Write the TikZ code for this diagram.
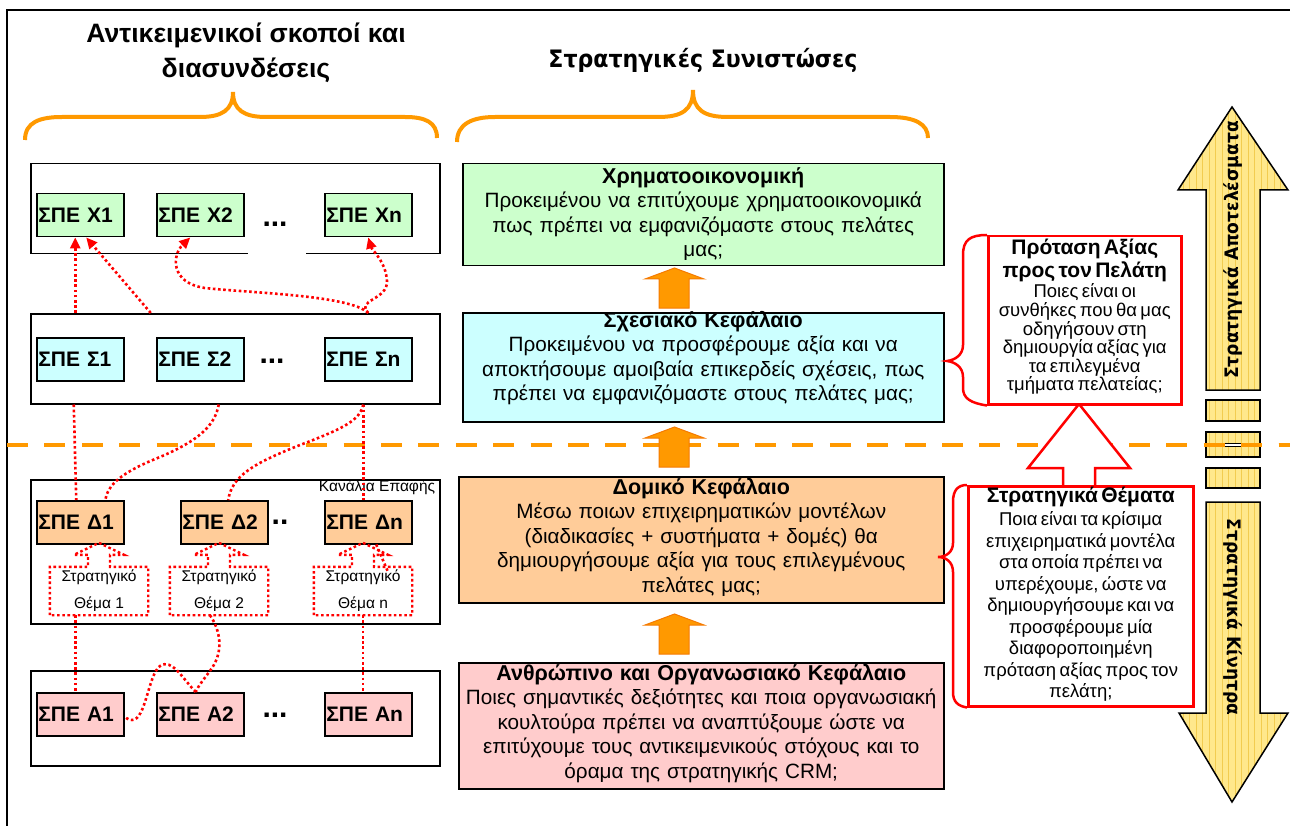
\documentclass[tikz,border=0pt]{standalone}
\usepackage{fontspec}
\setmainfont{Liberation Sans}
\newfontfamily\tahoma[FakeStretch=0.92]{DejaVu Sans}
\usetikzlibrary{arrows.meta,calc}

\definecolor{xgreen}{HTML}{CCFFCC}
\definecolor{scyan}{HTML}{CCFFFF}
\definecolor{dorange}{HTML}{FFCC99}
\definecolor{apink}{HTML}{FFCCCC}
\definecolor{accent}{HTML}{FF9900}
\definecolor{accentdark}{HTML}{F57A00}
\definecolor{arrowyellow}{HTML}{FFE88C}
\definecolor{gridyellow}{HTML}{F2CC50}

\newcommand\fs[2]{\fontsize{#1}{#2}\selectfont}

% orange block arrow between two strategy components, #1 = y of its tip
\newcommand\upblock[1]{%
  \filldraw[fill=accent, draw=accentdark, line width=1pt]
    (659,#1+40) -- (659,#1+11) -- (645,#1+11) -- (674.5,#1) -- (704,#1+11)
    -- (689,#1+11) -- (689,#1+40) -- cycle;}

% yellow gridded piece of the side arrow
\newcommand\gridpiece[1]{%
  \begin{scope}
    \clip #1;
    \fill[arrowyellow] (1170,100) rectangle (1290,810);
    \draw[gridyellow, line width=0.5pt, step=6.5] (1170,100) grid (1290,810);
  \end{scope}
  \draw[black, line width=1.5pt, line join=miter] #1;}

\tikzset{
  rowbox/.style={draw=black, line width=1.5pt, fill=white, anchor=north west,
    minimum width=409pt, inner sep=0pt},
  spe/.style={draw=black, line width=1.5pt, anchor=north west, minimum width=87pt,
    minimum height=43pt, text width=84pt, inner xsep=1.5pt, inner ysep=0pt,
    align=left, font=\bfseries\fs{21}{24}},
  dotsl/.style={font=\bfseries\fs{30}{30}, inner sep=0pt},
  theme/.style={minimum width=98pt, minimum height=48pt, inner sep=0pt,
    align=center, font=\fs{15.5}{27}},
  themeline/.style={draw=red, line width=2.4pt, dash pattern=on 2.6pt off 2.6pt},
  conn/.style={draw=red, line width=2.6pt, dash pattern=on 2.6pt off 2.6pt},
  arrowed/.style={-{Triangle[length=11pt,width=10pt]}},
  midbox/.style={draw=black, line width=1.5pt, anchor=north west, inner sep=0pt},
  midtext/.style={anchor=north, inner sep=0pt, text width=480pt, align=center,
    font=\fs{20.7}{24.5}},
  redbox/.style={draw=red, line width=2.5pt, fill=white, anchor=north west, inner sep=0pt},
  redtext/.style={anchor=north, inner sep=0pt, align=center},
  redbrace/.style={draw=red, line width=2.5pt},
  orangebrace/.style={draw=accent, line width=4pt},
  divider/.style={draw=accent, line width=4pt, dash pattern=on 21pt off 16.4pt},
}

\begin{document}
\begin{tikzpicture}[x=1pt,y=-1pt]
\useasboundingbox (0,0) rectangle (1290,826);

% frame
\draw[line width=1.5pt] (7,826) -- (7,10) -- (1290,10);

% headings and braces
\node[align=center, inner sep=0pt, font=\bfseries\fs{26.6}{35}] (headA) at (246,53)
  {Αντικειμενικοί σκοποί και\\διασυνδέσεις};
\node[inner sep=0pt, font=\tahoma\bfseries\fs{24}{26}] (headB) at (703,60)
  {Στρατηγικές Συνιστώσες};
\draw[orangebrace] (25,140) .. controls (25,122) and (40,117) .. (62,117) -- (200,117)
  .. controls (222,117) and (233,110) .. (233,92)
  .. controls (233,110) and (244,117) .. (266,117) -- (405,117)
  .. controls (425,117) and (437,122) .. (437,138);
\draw[orangebrace] (457,142) .. controls (457,124) and (472,117) .. (495,117) -- (658,117)
  .. controls (682,117) and (693,110) .. (693,90)
  .. controls (693,110) and (704,117) .. (728,117) -- (890,117)
  .. controls (915,117) and (928,124) .. (928,138);

% dividing line between outcomes and drivers
\draw[divider] (7,445) -- (1290,445);

% ---------- objectives and links ----------
\node[rowbox, minimum height=90pt] (Xrow) at (30,163) {};
\draw[white, line width=2.5pt] ([xshift=12.5pt]Xrow.south) -- ([xshift=70.5pt]Xrow.south);
\node[rowbox, minimum height=90pt] (Srow) at (30,313) {};
\node[rowbox, minimum height=144pt] (Drow) at (30,479) {};
\node[rowbox, minimum height=95pt] (Arow) at (30,670) {};

\node[spe, fill=xgreen] (X1) at (36,193) {ΣΠΕ Χ1};
\node[spe, fill=xgreen] (X2) at (156,193) {ΣΠΕ Χ2};
\node[spe, fill=xgreen] (Xn) at (324,193) {ΣΠΕ Χn};
\node[dotsl] (Xdots) at (275,224) {...};

\node[spe, fill=scyan] (S1) at (36,337) {ΣΠΕ Σ1};
\node[spe, fill=scyan] (S2) at (156,337) {ΣΠΕ Σ2};
\node[spe, fill=scyan] (Sn) at (324,337) {ΣΠΕ Σn};
\node[dotsl] (Sdots) at (272,361) {...};

\node[spe, fill=dorange] (D1) at (36,500) {ΣΠΕ Δ1};
\node[spe, fill=dorange] (D2) at (180,500) {ΣΠΕ Δ2};
\node[spe, fill=dorange] (Dn) at (324,500) {ΣΠΕ Δn};
\node[dotsl] (Ddots) at (280,522) {..};
\node[inner sep=0pt, font=\fs{15.5}{18}] (chan) at (377,487) {Κανάλια Επαφής};

\node[spe, fill=apink] (A1) at (36,692) {ΣΠΕ Α1};
\node[spe, fill=apink] (A2) at (156,692) {ΣΠΕ Α2};
\node[spe, fill=apink] (An) at (324,692) {ΣΠΕ Αn};
\node[dotsl] (Adots) at (275,715) {...};

% strategic theme callouts
\foreach \t/\cx/\lab in {T1/99/1, T2/219/2, Tn/363/n}{
  \node[theme] (\t) at (\cx,591) {Στρατηγικό\\Θέμα \lab};
  \draw[themeline] (\t.south west) -- (\t.north west) -- ([xshift=-11pt]\t.north)
    -- ([xshift=-11pt,yshift=12pt]\t.north) -- ([xshift=-25pt,yshift=12pt]\t.north)
    -- ([yshift=24pt]\t.north) -- ([xshift=25pt,yshift=12pt]\t.north)
    -- ([xshift=11pt,yshift=12pt]\t.north) -- ([xshift=11pt]\t.north)
    -- (\t.north east) -- (\t.south east) -- cycle;
}

% links between objectives
\coordinate (x1a) at ([xshift=-5pt]X1.south);
\coordinate (x1b) at ([xshift=6pt]X1.south);
\coordinate (x2a) at ([xshift=-10pt]X2.south);
\coordinate (s2up) at ([xshift=-49.5pt]S2.north);
\coordinate (snup) at (Sn.north |- Srow.north);
\draw[conn, arrowed] (x1a |- Srow.north) -- (x1a);
\draw[conn, arrowed] (s2up |- Srow.north) -- (x1b);
\draw[conn, arrowed] (snup) .. controls (350,295) and (250,293) .. (205,288)
  .. controls (170,283) and (172,255) .. (x2a);
\draw[conn, arrowed] (snup) .. controls (355,300) and (388,300) .. (387,281)
  .. controls (386,262) and (372,250) .. (Xn.south);

\coordinate (s1dn) at ([xshift=-6.5pt]S1.south);
\coordinate (s2dn) at ([xshift=18.5pt]S2.south);
\coordinate (sndn) at ([xshift=-5pt]Sn.south);
\coordinate (d1a) at ([xshift=-4pt]D1.north);
\coordinate (d1b) at ([xshift=25pt]D1.north);
\coordinate (d2a) at ([xshift=4pt]D2.north);
\draw[conn] (s1dn |- Srow.south) -- (d1a);
\draw[conn] (s2dn |- Srow.south) .. controls (215,425) and (200,440) .. (160,457)
  .. controls (120,473) and (108,485) .. (d1b);
\draw[conn] (sndn |- Srow.south) -- (sndn |- Dn.north);
\draw[conn] (sndn |- Srow.south) .. controls (360,420) and (345,428) .. (300,445)
  .. controls (255,463) and (232,475) .. (d2a);
\draw[conn] ([xshift=8pt]Dn.south) -- ([xshift=20pt,yshift=-28pt]Dn.south);

\coordinate (a1a) at ([xshift=-5pt]A1.north);
\coordinate (a2a) at ([xshift=-4.5pt]A2.north);
\coordinate (t2b) at ([xshift=-9pt]T2.south);
\draw[conn] (a1a |- T1.south) -- (a1a);
\draw[conn] (t2b) .. controls (220,630) and (224,650) .. (212,668)
  .. controls (205,678) and (198,686) .. (a2a);
\draw[conn] (a2a) .. controls (182,678) and (172,658) .. (160,666)
  .. controls (148,675) and (146,720) .. (132,720)
  .. controls (128,720) and (125,717) .. ([yshift=-2pt]A1.east);
\draw[conn] (Tn.south) -- (Tn.south |- An.north);

% ---------- strategic components ----------
\node[midbox, fill=xgreen, minimum width=481pt, minimum height=102pt] (G) at (462,163) {};
\node[midtext] (Gt) at ([yshift=-4pt]G.north) {{\bfseries\fs{21.5}{24.5}Χρηματοοικονομική}\\
  Προκειμένου να επιτύχουμε χρηματοοικονομικά\\
  πως πρέπει να εμφανιζόμαστε στους πελάτες\\μας;};
\upblock{268}
\node[midbox, fill=scyan, minimum width=481pt, minimum height=109pt] (C) at (462,312) {};
\node[midtext] (Ct) at ([yshift=1pt]C.north) {{\bfseries\fs{21.5}{24.5}Σχεσιακό Κεφάλαιο}\\
  Προκειμένου να προσφέρουμε αξία και να\\
  αποκτήσουμε αμοιβαία επικερδείς σχέσεις, πως\\
  πρέπει να εμφανιζόμαστε στους πελάτες μας;};
\upblock{427}
\node[midbox, fill=dorange, minimum width=485pt, minimum height=126pt] (O) at (458,476) {};
\node[midtext] (Ot) at ([yshift=-2pt]O.north) {{\bfseries\fs{21.5}{24.5}Δομικό Κεφάλαιο}\\
  Μέσω ποιων επιχειρηματικών μοντέλων\\
  (διαδικασίες + συστήματα + δομές) θα\\
  δημιουργήσουμε αξία για τους επιλεγμένους\\πελάτες μας;};
\upblock{614}
\node[midbox, fill=apink, minimum width=485pt, minimum height=126pt] (P) at (458,662) {};
\node[midtext] (Pt) at ([yshift=-2pt]P.north) {{\bfseries\fs{21.5}{24.5}Ανθρώπινο και Οργανωσιακό Κεφάλαιο}\\
  Ποιες σημαντικές δεξιότητες και ποια οργανωσιακή\\
  κουλτούρα πρέπει να αναπτύξουμε ώστε να\\
  επιτύχουμε τους αντικειμενικούς στόχους και το\\
  όραμα της στρατηγικής CRM;};

% ---------- value proposition and strategic themes ----------
\draw[red, line width=2.5pt, fill=white, line join=miter]
  (1063,487) -- (1063,468) -- (1028,468) -- (1079,404) -- (1130,468)
  -- (1095,468) -- (1095,487);
\node[redbox, minimum width=193pt, minimum height=168pt] (V) at (987,235) {};
\node[redtext, text width=190pt] (Vt) at ([yshift=-4pt]V.north)
  {{\bfseries\fs{21}{23}Πρόταση Αξίας\\προς τον Πελάτη\par}\vspace{1.7pt}%
   {\fs{18.5}{18.6}Ποιες είναι οι\\συνθήκες που θα μας\\οδηγήσουν στη\\δημιουργία αξίας για\\τα επιλεγμένα\\τμήματα πελατείας;\par}};
\node[redbox, minimum width=225pt, minimum height=220pt] (TH) at (967,485) {};
\node[redtext, text width=222pt] (THt) at ([yshift=-2pt]TH.north)
  {{\bfseries\fs{21}{23}Στρατηγικά Θέματα\par}\vspace{1.8pt}%
   {\fs{18.5}{21.5}Ποια είναι τα κρίσιμα\\επιχειρηματικά μοντέλα\\στα οποία πρέπει να\\υπερέχουμε, ώστε να\\δημιουργήσουμε και να\\προσφέρουμε μία\\διαφοροποιημένη\\πρόταση αξίας προς τον\\πελάτη;\par}};

\draw[redbrace] (V.north west) .. controls (970,235) and (963,240) .. (963,255) -- (963,345)
  .. controls (963,355) and (955,360) .. (947,361)
  .. controls (955,362) and (963,367) .. (963,377) -- (963,388)
  .. controls (963,398) and (970,403) .. (V.south west);
\draw[redbrace] (TH.north west) .. controls (958,485) and (953,490) .. (953,502) -- (953,543)
  .. controls (953,552) and (946,557) .. (938,557)
  .. controls (946,557) and (953,562) .. (953,572) -- (953,692)
  .. controls (953,702) and (958,706) .. (TH.south west);

% ---------- side arrows ----------
\gridpiece{(1206,390) -- (1206,190) -- (1178,190) -- (1232,107) -- (1288,190) -- (1260,190) -- (1260,390) -- cycle}
\gridpiece{(1206,400) rectangle (1260,421)}
\gridpiece{(1206,432) rectangle (1260,443.5)}
\gridpiece{(1206,446.5) rectangle (1260,457)}
\gridpiece{(1206,468) rectangle (1260,488)}
\gridpiece{(1206,502) -- (1206,713) -- (1179,713) -- (1232,802) -- (1288,713) -- (1260,713) -- (1260,502) -- cycle}
% the divider runs across the small pieces
\begin{scope}
  \clip (1195,430) rectangle (1290,460);
  \draw[divider] (7,445) -- (1290,445);
\end{scope}
\node[rotate=90, inner sep=0pt, font=\tahoma\bfseries\fs{18.6}{20}] (upt) at (1233,250)
  {Στρατηγικά Αποτελέσματα};
\node[rotate=-90, inner sep=0pt, font=\tahoma\bfseries\fs{18.6}{20}] (dnt) at (1233,617)
  {Στρατηγικά Κίνητρα};

\end{tikzpicture}
\end{document}
